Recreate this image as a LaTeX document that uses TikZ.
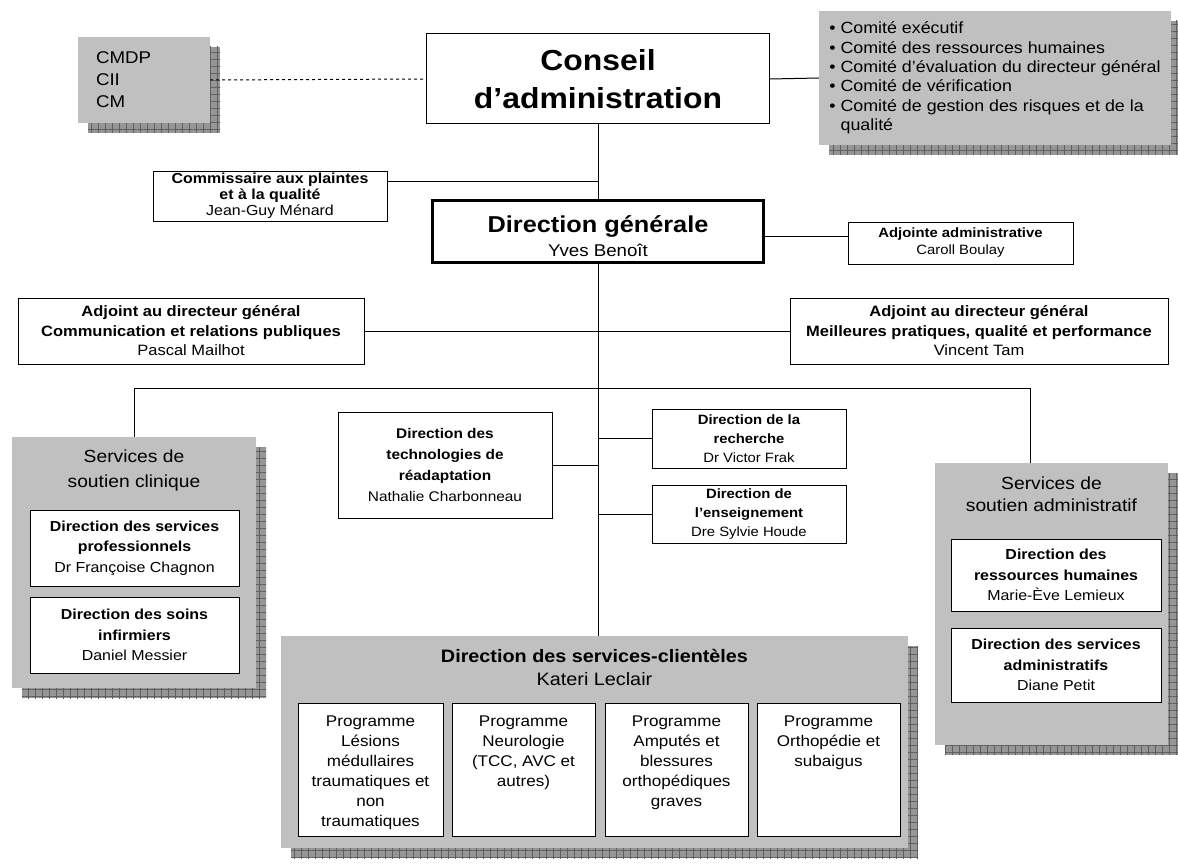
\documentclass[tikz,border=0pt]{standalone}
\usepackage{fontspec}
\setmainfont{Liberation Sans}[FakeStretch=1.1]
\usetikzlibrary{shadows,patterns.meta,positioning}
\definecolor{panelgray}{RGB}{192,192,192}
\definecolor{shadegray}{RGB}{150,150,150}
\definecolor{gridgray}{RGB}{95,95,95}
\newcommand{\fs}[2]{\fontsize{#1}{#2}\selectfont}
\newcommand{\proglines}[1]{\parbox[t][109pt][t]{138pt}{\centering\fs{15.5}{20}#1}}

\tikzset{
  shadowed/.style={
    general shadow={shadow xshift=10pt, shadow yshift=-10pt, fill=shadegray},
    general shadow={shadow xshift=10pt, shadow yshift=-10pt,
      pattern={Hatch[angle=0,distance=7pt,line width=0.7pt]}, pattern color=gridgray}},
  unit/.style={draw, fill=white, align=center, inner sep=0pt, line width=1pt},
  panel/.style={fill=panelgray, inner sep=0pt, shadowed},
  progbox/.style={draw, fill=white, anchor=north, inner xsep=2pt, inner ysep=12pt, line width=1pt},
  link/.style={line width=1pt}
}

\begin{document}
\begin{tikzpicture}[x=1pt, y=-1pt]
\path[use as bounding box, fill=white] (0,0) rectangle (1178,864);

% conseil et comites
\node[panel, minimum width=132pt, minimum height=86pt, text width=96pt, align=left, font=\fs{17}{22}] (cmdp) at (144,80) {CMDP\\CII\\CM};
\node[unit, minimum width=343pt, minimum height=90pt, font=\bfseries\fs{29}{38}] (conseil) at (598,79) {Conseil\\d’administration};
\node[panel, minimum width=352pt, minimum height=134pt, align=left, font=\fs{16.2}{19.4}] (comites) at (995,78)
  {• Comité exécutif\\• Comité des ressources humaines\\• Comité d’évaluation du directeur général\\• Comité de vérification\\• Comité de gestion des risques et de la\\\hphantom{•\ }qualité};

% direction generale
\node[unit, minimum width=234pt, minimum height=50pt, font=\fs{14.5}{16}] (commissaire) at (270,196)
  {\textbf{Commissaire aux plaintes}\\\textbf{et à la qualité}\\Jean-Guy Ménard};
\node[unit, line width=3pt, minimum width=331pt, minimum height=62pt, font=\fs{17}{24}] (dg) at (598,231)
  {{\bfseries\fs{23}{24}\rule{0pt}{28pt}Direction générale}\\Yves Benoît};
\node[unit, minimum width=225pt, minimum height=42pt, font=\fs{13.5}{17}] (adjointe) at (960.5,243)
  {\textbf{Adjointe administrative}\\Caroll Boulay};
\node[unit, minimum width=346pt, minimum height=66pt, font=\fs{15}{19.5}] (adjcomm) at (191,331)
  {\textbf{Adjoint au directeur général}\\\textbf{Communication et relations publiques}\\Pascal Mailhot};
\node[unit, minimum width=378pt, minimum height=66pt, font=\fs{15}{19.5}] (adjperf) at (979,331)
  {\textbf{Adjoint au directeur général}\\\textbf{Meilleures pratiques, qualité et performance}\\Vincent Tam};

% soutien clinique
\node[panel, minimum width=244pt, minimum height=251pt] (clinique) at (134,562.5) {};
\node[anchor=north, align=center, font=\fs{17.5}{25}] (cliniquetitre) at ([yshift=-9pt]clinique.north) {Services de\\soutien clinique};
\node[unit, minimum width=209pt, minimum height=76pt, font=\fs{14.5}{20.5}] (dsp) at (134.5,548)
  {\textbf{Direction des services}\\\textbf{professionnels}\\Dr Françoise Chagnon};
\node[unit, minimum width=209pt, minimum height=76pt, font=\fs{14.5}{20.5}] (dsi) at (134.5,635)
  {\textbf{Direction des soins}\\\textbf{infirmiers}\\Daniel Messier};

% directions centrales
\node[unit, minimum width=214pt, minimum height=106pt, font=\fs{14}{21}] (dtr) at (445,465)
  {\textbf{Direction des}\\\textbf{technologies de}\\\textbf{réadaptation}\\Nathalie Charbonneau};
\node[unit, minimum width=194pt, minimum height=59pt, font=\fs{13.5}{19}] (drech) at (749,438.5)
  {\textbf{Direction de la}\\\textbf{recherche}\\Dr Victor Frak};
\node[unit, minimum width=194pt, minimum height=58pt, font=\fs{13.5}{19}] (dens) at (749,514)
  {\textbf{Direction de}\\\textbf{l’enseignement}\\Dre Sylvie Houde};

% soutien administratif
\node[panel, minimum width=233pt, minimum height=282pt] (admin) at (1051.5,604) {};
\node[anchor=north, align=center, font=\fs{17.5}{22}] (admintitre) at ([yshift=-10pt]admin.north) {Services de\\soutien administratif};
\node[unit, minimum width=210pt, minimum height=72pt, font=\fs{14.5}{20.5}] (drh) at (1056,575)
  {\textbf{Direction des}\\\textbf{ressources humaines}\\Marie-Ève Lemieux};
\node[unit, minimum width=210pt, minimum height=74pt, font=\fs{14.5}{20.5}] (dsa) at (1056,665)
  {\textbf{Direction des services}\\\textbf{administratifs}\\Diane Petit};

% services-clienteles
\node[panel, minimum width=627pt, minimum height=212pt] (clientele) at (594.5,742) {};
\node[anchor=north, align=center, font=\fs{18}{23}] (clienteletitre) at ([yshift=-10pt]clientele.north)
  {\textbf{Direction des services-clientèles}\\Kateri Leclair};
\node[progbox, minimum width=145pt] (prog1) at (370.5,703) {\proglines{Programme\\Lésions\\médullaires\\traumatiques et\\non\\traumatiques}};
\node[progbox, minimum width=143pt] (prog2) at (523.5,703) {\proglines{Programme\\Neurologie\\(TCC, AVC et\\autres)}};
\node[progbox, minimum width=143pt] (prog3) at (676.5,703) {\proglines{Programme\\Amputés et\\blessures\\orthopédiques\\graves}};
\node[progbox, minimum width=143pt] (prog4) at (828.5,703) {\proglines{Programme\\Orthopédie et\\subaigus}};

% liens
\coordinate (cq) at ([yshift=15pt]commissaire.east);
\coordinate (aa) at ([yshift=7pt]adjointe.west);
\coordinate (bus) at (1030,388);
\draw[link, dashed] (cmdp.east) -- (conseil.west);
\draw[link] (conseil.east) -- (comites.west);
\draw[link] (conseil.south) -- (dg.north);
\draw[link] (cq) -- (cq -| dg.north);
\draw[link] (aa) -- (aa -| dg.east);
\draw[link] (dg.south) -- (dg.south |- clientele.north);
\draw[link] (adjcomm.east) -- (adjcomm.east -| dg.south);
\draw[link] (adjperf.west) -- (adjperf.west -| dg.south);
\draw[link] (clinique.north) |- (bus) -- (bus |- admin.north);
\draw[link] (dtr.east) -- (dtr.east -| dg.south);
\draw[link] (drech.west) -- (drech.west -| dg.south);
\draw[link] (dens.west) -- (dens.west -| dg.south);

\end{tikzpicture}
\end{document}
